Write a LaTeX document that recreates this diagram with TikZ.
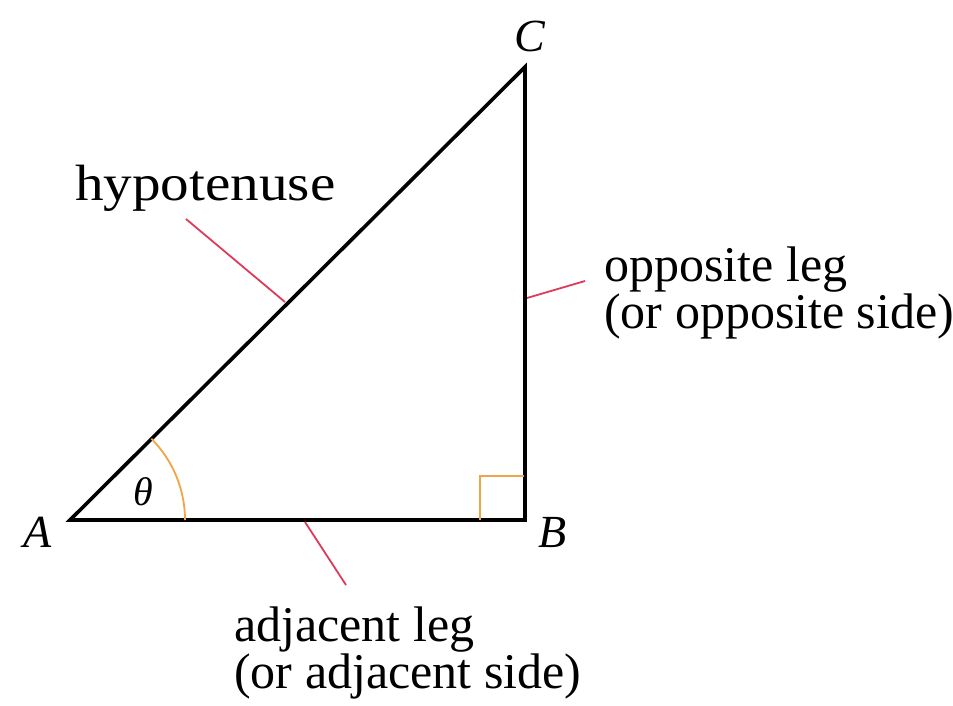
\documentclass[tikz,border=0pt]{standalone}
\usepackage{fontspec}
\setmainfont{Liberation Serif}
\newfontfamily\hypfont[FakeStretch=1.12]{Liberation Serif}
\definecolor{lblred}{RGB}{222,58,92}
\definecolor{angorange}{RGB}{240,165,70}
\tikzset{
  side/.style={line width=3.6pt, line join=miter, black},
  pointer/.style={line width=1.8pt, lblred},
  anglemark/.style={line width=1.8pt, angorange},
  lbl/.style={inner sep=0pt, anchor=base west, align=left, font=\fontsize{50}{45}\selectfont},
  vlbl/.style={inner sep=0pt, font=\fontsize{46}{46}\selectfont\itshape},
}
\begin{document}
\begin{tikzpicture}[x=1pt,y=-1pt]
\useasboundingbox (0,0) rectangle (953,705);
\coordinate (A) at (70,520);
\coordinate (B) at (525,520);
\coordinate (C) at (525,67);
\draw[side] (A) -- (B) -- (C) -- cycle;
% right angle mark
\draw[anglemark] (480,520) -- (480,476) -- (524,476);
% angle arc
\draw[anglemark] (185,520) arc[start angle=0, end angle=-45, radius=115];
% vertex labels
\node[vlbl] (lA) at (38,532) {A};
\node[vlbl] (lB) at (553,532) {B};
\node[vlbl] (lC) at (530,36) {C};
\node[vlbl, font=\fontsize{40}{40}\selectfont\itshape] (lt) at (143,492) {θ};
% side labels
\node[lbl, font=\fontsize{51}{45}\hypfont] (hyp) at (75,200) {hypotenuse};
\node[lbl] (opp) at (604,328) {opposite leg\\(or opposite side)};
\node[lbl] (adj) at (234,688) {adjacent leg\\(or adjacent side)};
% pointers
\coordinate (h1) at (186,219);
\coordinate (h2) at (285,302);
\coordinate (o1) at (527,298);
\coordinate (o2) at (585,281);
\coordinate (a1) at (305,522);
\coordinate (a2) at (346,585);
\draw[pointer] (h1) -- (h2);
\draw[pointer] (o1) -- (o2);
\draw[pointer] (a1) -- (a2);
\end{tikzpicture}
\end{document}
